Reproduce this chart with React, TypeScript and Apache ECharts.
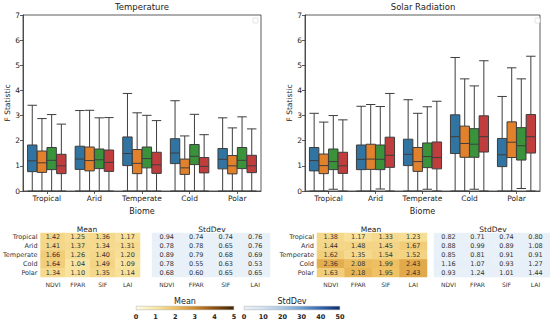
import React, { useEffect, useRef } from 'react';
import * as echarts from 'echarts';

const biomes = ['Tropical', 'Arid', 'Temperate', 'Cold', 'Polar'];
const indices = ['NDVI', 'FPAR', 'SIF', 'LAI'];
const boxColors = ['#3274a1', '#e1812c', '#3a923a', '#c03d3e'];

// [min, Q1, median, Q3, max] per biome
const tempNDVI = [[0, 0.77, 1.20, 1.83, 3.41], [0, 0.86, 1.27, 1.78, 3.20], [0, 1.01, 1.49, 2.15, 3.88], [0, 1.09, 1.51, 2.08, 3.59], [0, 0.88, 1.26, 1.69, 2.91]];
const tempFPAR = [[0, 0.74, 1.12, 1.59, 2.88], [0, 0.80, 1.21, 1.75, 3.21], [0, 0.69, 1.10, 1.65, 3.11], [0, 0.66, 0.92, 1.27, 2.19], [0, 0.68, 1.00, 1.41, 2.51]];
const tempSIF = [[0, 0.85, 1.22, 1.73, 3.04], [0, 0.89, 1.24, 1.67, 2.91], [0, 0.92, 1.29, 1.75, 3.01], [0, 1.05, 1.38, 1.85, 3.05], [0, 0.89, 1.22, 1.73, 2.95]];
const tempLAI = [[0, 0.69, 1.00, 1.46, 2.66], [0, 0.78, 1.14, 1.63, 2.92], [0, 0.70, 1.04, 1.54, 2.80], [0, 0.72, 0.98, 1.33, 2.24], [0, 0.73, 1.00, 1.42, 2.47]];

const solarNDVI = [[0, 0.80, 1.21, 1.73, 3.09], [0, 0.85, 1.26, 1.83, 3.37], [0, 1.01, 1.46, 2.06, 3.63], [0, 1.49, 2.16, 3.03, 5.31], [0, 0.97, 1.44, 2.09, 3.76]];
const solarFPAR = [[0, 0.69, 1.01, 1.47, 2.74], [0, 0.86, 1.27, 1.86, 3.44], [0, 0.78, 1.17, 1.73, 3.09], [0, 1.34, 1.89, 2.58, 4.46], [0, 1.33, 1.94, 2.75, 4.90]];
const solarSIF = [[0.07, 0.85, 1.17, 1.67, 3.00], [0.08, 0.85, 1.26, 1.83, 3.36], [0.07, 0.93, 1.37, 1.91, 3.35], [0.07, 1.34, 1.86, 2.48, 4.18], [0.10, 1.23, 1.80, 2.52, 4.46]];
const solarLAI = [[0, 0.70, 1.00, 1.54, 2.83], [0, 0.94, 1.42, 2.14, 3.88], [0, 0.88, 1.33, 1.95, 3.57], [0, 1.55, 2.16, 2.99, 5.18], [0, 1.51, 2.16, 3.04, 5.36]];

// tables: rows = biomes, cols = indices
const tempMean = [[1.42, 1.25, 1.36, 1.17], [1.41, 1.37, 1.34, 1.31], [1.66, 1.26, 1.40, 1.20], [1.64, 1.04, 1.49, 1.09], [1.34, 1.10, 1.35, 1.14]];
const tempStd = [[0.94, 0.74, 0.74, 0.76], [0.78, 0.78, 0.65, 0.76], [0.89, 0.79, 0.68, 0.69], [0.78, 0.55, 0.63, 0.53], [0.68, 0.60, 0.65, 0.65]];
const solarMean = [[1.38, 1.17, 1.33, 1.23], [1.44, 1.48, 1.45, 1.67], [1.62, 1.35, 1.54, 1.52], [2.36, 2.08, 1.99, 2.43], [1.63, 2.18, 1.95, 2.43]];
const solarStd = [[0.82, 0.71, 0.74, 0.80], [0.88, 0.99, 0.89, 1.08], [0.85, 0.81, 0.91, 0.91], [1.16, 1.07, 0.93, 1.27], [0.93, 1.24, 1.01, 1.44]];

const meanRange = [0, 5];
const stdRange = [0, 50];
const meanColors = ['#fffbe6', '#f9e7a6', '#eec061', '#cf8a2c', '#8d4f10', '#3f2402'];
const stdColors = ['#eaf1f9', '#d2e1f1', '#aac7e4', '#6d9fd0', '#3567ae', '#0c2a6b'];

const FONT = 'DejaVu Sans';

function toCells(m: number[][]) {
  const out: number[][] = [];
  m.forEach((row, r) => row.forEach((v, c) => out.push([c, r, v])));
  return out;
}

function gradient(colors: string[]) {
  return {
    type: 'linear', x: 0, y: 0, x2: 1, y2: 0,
    colorStops: colors.map((c, i) => ({ offset: i / (colors.length - 1), color: c })),
  };
}

export default function App() {
  const ref = useRef<HTMLDivElement>(null);
  useEffect(() => {
    const chart = echarts.init(ref.current!, null, { renderer: 'svg' });

    const boxGrid = { show: true, borderColor: '#333', borderWidth: 0.8, backgroundColor: 'transparent' };
    const grids = [
      { left: 23, top: 15, width: 238, height: 176, ...boxGrid },
      { left: 305, top: 15, width: 235, height: 176, ...boxGrid },
      { left: 34, top: 233, width: 106, height: 44 },
      { left: 152, top: 233, width: 118, height: 44 },
      { left: 317, top: 233, width: 110, height: 44 },
      { left: 434, top: 233, width: 118, height: 44 },
      { left: 136, top: 306, width: 98, height: 4 },
      { left: 244, top: 306, width: 96, height: 4 },
    ];

    const boxX = (gi: number) => ({
      type: 'category', gridIndex: gi, data: biomes,
      axisLine: { show: true, lineStyle: { color: '#333', width: 0.8 } },
      axisTick: { show: true, alignWithLabel: true, length: 3, lineStyle: { color: '#333', width: 0.8 } },
      axisLabel: { interval: 0, fontSize: 7.5, color: '#222', margin: 3, fontFamily: FONT },
      name: 'Biome', nameLocation: 'middle', nameGap: 16,
      nameTextStyle: { fontSize: 8, color: '#222', fontFamily: FONT },
    });
    const boxY = (gi: number) => ({
      type: 'value', gridIndex: gi, min: 0, max: 7, interval: 1,
      axisLine: { show: true, lineStyle: { color: '#333', width: 0.8 } },
      axisTick: { show: true, length: 3, lineStyle: { color: '#333', width: 0.8 } },
      axisLabel: { fontSize: 7.5, color: '#222', margin: 3, fontFamily: FONT },
      splitLine: { show: false },
      name: 'F Statistic', nameLocation: 'middle', nameGap: 11,
      nameTextStyle: { fontSize: 7.5, color: '#222', fontFamily: FONT },
    });
    const tabX = (gi: number) => ({
      type: 'category', gridIndex: gi, data: indices,
      axisLine: { show: false }, axisTick: { show: false }, splitLine: { show: false },
      axisLabel: { interval: 0, fontSize: 6, color: '#333', margin: 4, fontFamily: FONT },
    });
    const tabY = (gi: number, labels: boolean) => ({
      type: 'category', gridIndex: gi, data: biomes, inverse: true,
      axisLine: { show: false }, axisTick: { show: false }, splitLine: { show: false },
      axisLabel: { show: labels, interval: 0, fontSize: 6.5, color: '#333', margin: 3, fontFamily: FONT },
    });
    const cbX = (gi: number, range: number[], interval: number) => ({
      type: 'value', gridIndex: gi, min: range[0], max: range[1], interval,
      axisLine: { show: false }, axisTick: { show: false }, splitLine: { show: false },
      axisLabel: { fontSize: 6.5, fontWeight: 'bold', color: '#222', margin: 3, fontFamily: FONT },
    });
    const cbY = (gi: number) => ({ type: 'category', gridIndex: gi, data: ['cb'], show: false });

    const mkBox = (data: number[][], idx: number, axis: number) => ({
      type: 'boxplot', xAxisIndex: axis, yAxisIndex: axis, data,
      boxWidth: [9.4, 9.4],
      itemStyle: { color: boxColors[idx], borderColor: '#3d3d3d', borderWidth: 1 },
      emphasis: { disabled: true },
      silent: true,
    });
    const mkHeat = (m: number[][], axis: number) => ({
      type: 'heatmap', xAxisIndex: axis, yAxisIndex: axis, data: toCells(m),
      label: {
        show: true, fontSize: 6.5, color: '#333', fontFamily: FONT,
        formatter: (p: any) => p.value[2].toFixed(2),
      },
      itemStyle: { borderWidth: 0 },
      emphasis: { disabled: true },
      silent: true,
    });

    const series: any[] = [
      mkBox(tempNDVI, 0, 0), mkBox(tempFPAR, 1, 0), mkBox(tempSIF, 2, 0), mkBox(tempLAI, 3, 0),
      mkBox(solarNDVI, 0, 1), mkBox(solarFPAR, 1, 1), mkBox(solarSIF, 2, 1), mkBox(solarLAI, 3, 1),
      mkHeat(tempMean, 2), mkHeat(tempStd, 3), mkHeat(solarMean, 4), mkHeat(solarStd, 5),
      {
        type: 'bar', xAxisIndex: 6, yAxisIndex: 6, data: [meanRange[1]], barWidth: '100%',
        itemStyle: { color: gradient(meanColors), borderColor: '#999', borderWidth: 0.4 }, silent: true,
      },
      {
        type: 'bar', xAxisIndex: 7, yAxisIndex: 7, data: [stdRange[1]], barWidth: '100%',
        itemStyle: { color: gradient(stdColors), borderColor: '#999', borderWidth: 0.4 }, silent: true,
      },
    ];

    const txt = (text: string, x: number, y: number, size: number) => ({
      type: 'text', x, y, silent: true,
      style: {
        text, fontSize: size, fill: '#222', fontFamily: FONT,
        textAlign: 'center', textVerticalAlign: 'middle', align: 'center', verticalAlign: 'middle',
      },
    });
    const legendBox = (x: number) => ({
      type: 'rect', shape: { x, y: 18, width: 5, height: 5, r: 1 }, silent: true,
      style: { fill: '#fff', stroke: '#d0d0d0', lineWidth: 0.6 },
    });

    const option: any = {
      animation: false,
      backgroundColor: '#fff',
      textStyle: { fontFamily: FONT },
      title: [
        { text: 'Temperature', left: 142, top: 2, textAlign: 'center', padding: 0, textStyle: { fontSize: 8.5, fontWeight: 'normal', color: '#222', fontFamily: FONT } },
        { text: 'Solar Radiation', left: 423, top: 2, textAlign: 'center', padding: 0, textStyle: { fontSize: 8.5, fontWeight: 'normal', color: '#222', fontFamily: FONT } },
      ],
      grid: grids,
      xAxis: [boxX(0), boxX(1), tabX(2), tabX(3), tabX(4), tabX(5), cbX(6, meanRange, 1), cbX(7, stdRange, 10)],
      yAxis: [boxY(0), boxY(1), tabY(2, true), tabY(3, false), tabY(4, true), tabY(5, false), cbY(6), cbY(7)],
      visualMap: [
        { type: 'continuous', show: false, min: meanRange[0], max: meanRange[1], seriesIndex: [8, 10], dimension: 2, inRange: { color: meanColors } },
        { type: 'continuous', show: false, min: stdRange[0], max: stdRange[1], seriesIndex: [9, 11], dimension: 2, inRange: { color: stdColors } },
      ],
      graphic: [
        txt('Mean', 87, 229, 7.5),
        txt('StdDev', 212, 229, 7.5),
        txt('Mean', 371, 229, 7.5),
        txt('StdDev', 493, 229, 7.5),
        txt('Mean', 185, 301, 8),
        txt('StdDev', 292, 301, 8),
        legendBox(253),
        legendBox(535),
      ],
      series,
    };
    chart.setOption(option);
    return () => chart.dispose();
  }, []);
  return <div ref={ref} style={{ position: 'fixed', left: 0, top: 0, width: 550, height: 322 }} />;
}
